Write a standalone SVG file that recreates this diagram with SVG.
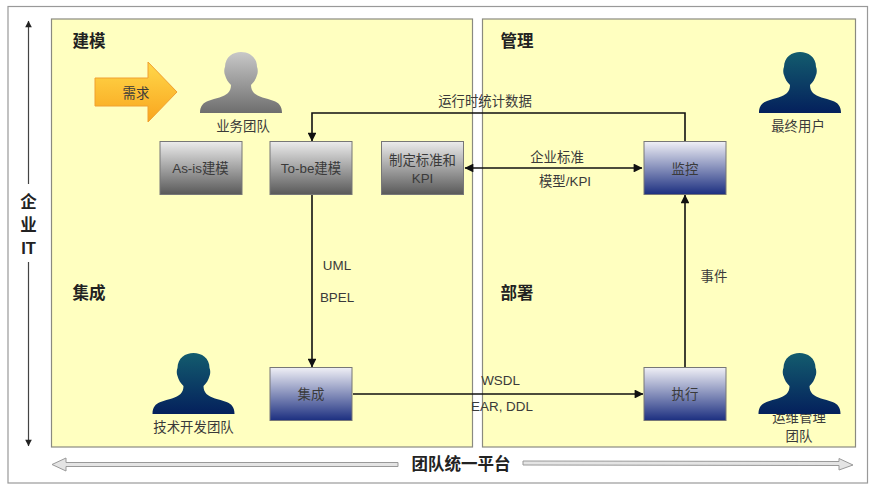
<svg xmlns="http://www.w3.org/2000/svg" width="880" height="493" viewBox="0 0 880 493">
<style>
text{font-family:"Liberation Sans","Noto Sans CJK SC",sans-serif;text-anchor:middle;fill:#333}
.h{font-size:16.500px;font-weight:bold;fill:#222}
.t{font-size:13.400px;fill:#3a3a3a}
.panel{fill:#ffffc0;stroke:#8a8a80;stroke-width:1.2}
.box{stroke:#777;stroke-width:1}
.c{fill:none;stroke:#111;stroke-width:1.6}
.g{fill:none;stroke:#444;stroke-width:1.2}
.w{fill:#e4e4e4;stroke:#999;stroke-width:1}
</style>
<defs>
<linearGradient id="gr" x1="0" y1="0" x2="0" y2="1"><stop offset="0" stop-color="#ececec"/><stop offset="1" stop-color="#595959"/></linearGradient>
<linearGradient id="bl" x1="0" y1="0" x2="0" y2="1"><stop offset="0" stop-color="#f0f0f6"/><stop offset="1" stop-color="#1c2f80"/></linearGradient>
<linearGradient id="dp" x1="0" y1="0" x2="0" y2="1"><stop offset="0" stop-color="#135c6e"/><stop offset="1" stop-color="#04205c"/></linearGradient>
<linearGradient id="gp" x1="0" y1="0" x2="0" y2="1"><stop offset="0" stop-color="#c8c8c8"/><stop offset="1" stop-color="#6e6e6e"/></linearGradient>
<linearGradient id="or" x1="0" y1="0" x2="0" y2="1"><stop offset="0" stop-color="#ffd84a"/><stop offset="1" stop-color="#f9a51e"/></linearGradient>
<path id="person" d="M0 61C0 54 3 51 8 49C16 46 24 45 28 41C30 39 31 36 31 33C28 30 26 27 25 23C24 21 24 17 25 15C25 5 33 0 41 0C49 0 57 5 57 15C58 17 58 21 57 23C56 27 54 30 51 33C51 36 52 39 54 41C58 45 66 46 74 49C79 51 82 54 82 61Z"/>
<marker id="a" viewBox="0 0 10 10" refX="9.500" refY="5" markerWidth="6" markerHeight="5.500" markerUnits="strokeWidth" orient="auto-start-reverse"><path d="M0 0L10 5L0 10Z" fill="#111"/></marker>
<marker id="b" viewBox="0 0 10 10" refX="9.500" refY="5" markerWidth="6" markerHeight="5.500" markerUnits="strokeWidth" orient="auto-start-reverse"><path d="M0 0L10 5L0 10Z" fill="#222"/></marker>
</defs>
<rect width="880" height="493" fill="#fff"/>
<rect x="8" y="6.500" width="859.500" height="476.500" fill="#fff" stroke="#999" stroke-width="1.200"/>
<g id="panel-left"><rect class="panel" x="51.500" y="19" width="421" height="428"/><text class="h" x="89" y="47">建模</text><text class="h" x="89" y="299">集成</text></g>
<g id="panel-right"><rect class="panel" x="482.500" y="19" width="373" height="428"/><text class="h" x="517" y="47">管理</text><text class="h" x="517" y="299">部署</text></g>
<g id="connectors">
<path class="c" d="M685 141V113H312V141" marker-end="url(#a)"/>
<path class="c" d="M312 194V367" marker-end="url(#a)"/>
<path class="c" d="M353 394H643" marker-end="url(#a)"/>
<path class="c" d="M685 367V195" marker-end="url(#a)"/>
<path class="c" d="M465 168H642" marker-start="url(#a)" marker-end="url(#a)"/>
<path class="g" d="M28.500 184V21" marker-end="url(#b)"/>
<path class="g" d="M28.500 262V446" marker-end="url(#b)"/>
<path class="w" d="M398 462.500V466.500L66 466.500V471L52 464.500L66 458V462.500Z"/>
<path class="w" d="M523 461V465L839 465.500V470L853 465L839 458.500V461.500Z"/>
</g>
<g id="label-stats"><text class="t" x="485" y="106">运行时统计数据</text></g>
<g id="label-std"><text class="t" x="557" y="162">企业标准</text><text class="t" x="565" y="186">模型/KPI</text></g>
<g id="label-uml"><text class="t" x="337" y="270">UML</text><text class="t" x="337" y="302">BPEL</text></g>
<g id="label-wsdl"><text class="t" x="500.500" y="385">WSDL</text><text class="t" x="502" y="411">EAR, DDL</text></g>
<g id="label-event"><text class="t" x="714" y="281">事件</text></g>
<g id="need"><path d="M95 78H148V62L177 92L148 122V106H95Z" fill="url(#or)" stroke="#f0a030"/><text class="t" x="136" y="98">需求</text></g>
<g id="user-business"><use href="#person" x="200" y="52" fill="url(#gp)"/><text class="t" x="243" y="131">业务团队</text></g>
<g id="user-end"><use href="#person" x="759" y="52" fill="url(#dp)"/><text class="t" x="798" y="131">最终用户</text></g>
<g id="user-dev"><use href="#person" x="152.500" y="353" fill="url(#dp)"/><text class="t" x="193.500" y="432">技术开发团队</text></g>
<g id="user-ops"><text class="t" x="799" y="422">运维管理</text><text class="t" x="799" y="441">团队</text><use href="#person" x="758.500" y="353" fill="url(#dp)"/></g>
<g id="asis"><rect class="box" x="160" y="141.500" width="82" height="53" fill="url(#gr)"/><text class="t" x="200.500" y="173">As-is建模</text></g>
<g id="tobe"><rect class="box" x="270" y="141.500" width="82" height="53" fill="url(#gr)"/><text class="t" x="311" y="173">To-be建模</text></g>
<g id="kpi"><rect class="box" x="381.500" y="141.500" width="82" height="53" fill="url(#gr)"/><text class="t" x="422.500" y="165">制定标准和</text><text class="t" x="422.500" y="183">KPI</text></g>
<g id="monitor"><rect class="box" x="644" y="141.500" width="82" height="53" fill="url(#bl)"/><text class="t" x="685" y="174">监控</text></g>
<g id="integrate"><rect class="box" x="270" y="367.500" width="82" height="53" fill="url(#bl)"/><text class="t" x="311" y="399">集成</text></g>
<g id="execute"><rect class="box" x="644" y="367.500" width="82" height="53" fill="url(#bl)"/><text class="t" x="685" y="399">执行</text></g>
<g id="axis-it"><text class="h" x="28.500" y="208">企</text><text class="h" x="28.500" y="231">业</text><text class="h" x="28.500" y="254">IT</text></g>
<g id="axis-team"><text class="h" x="461" y="470">团队统一平台</text></g>
</svg>
